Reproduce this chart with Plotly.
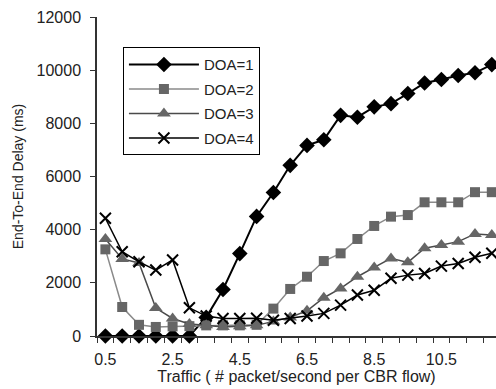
import plotly.graph_objects as go

traffic = [0.5, 1.0, 1.5, 2.0, 2.5, 3.0, 3.5, 4.0, 4.5, 5.0, 5.5, 6.0,
           6.5, 7.0, 7.5, 8.0, 8.5, 9.0, 9.5, 10.0, 10.5, 11.0, 11.5, 12.0]

doa1 = [0, 0, 0, 0, 0, 0, 700, 1750, 3100, 4500, 5400, 6420,
        7170, 7380, 8300, 8230, 8620, 8740, 9120, 9520, 9650, 9800, 9900, 10210]
doa2 = [3260, 1090, 420, 340, 360, 370, 400, 400, 400, 420, 1030, 1770,
        2230, 2820, 3110, 3650, 4140, 4490, 4550, 5030, 5030, 5030, 5410, 5410]
doa3 = [3650, 2900, 2750, 1050, 660, 450, 400, 340, 370, 400, 550, 700,
        950, 1440, 1790, 2230, 2580, 2920, 2770, 3300, 3420, 3550, 3840, 3800]
doa4 = [4430, 3170, 2790, 2480, 2860, 1060, 750, 660, 660, 670, 590, 660,
        750, 850, 1160, 1540, 1720, 2170, 2290, 2350, 2630, 2730, 2960, 3110]

x_tick_labels = ["0.5", "2.5", "4.5", "6.5", "8.5", "10.5"]
x_tick_vals = [0.5, 2.5, 4.5, 6.5, 8.5, 10.5]
y_tick_vals = [0, 2000, 4000, 6000, 8000, 10000, 12000]
y_tick_labels = ["0", "2000", "4000", "6000", "8000", "10000", "12000"]

FONT = "Liberation Sans, Arial, sans-serif"
TXT = "#222222"

fig = go.Figure()

fig.add_trace(go.Scatter(
    x=traffic, y=doa1, name="DOA=1", mode="lines+markers", legendgroup="a",
    line=dict(color="#000000", width=2),
    marker=dict(symbol="diamond", size=12, color="#000000"),
    cliponaxis=False))
fig.add_trace(go.Scatter(
    x=traffic, y=doa2, name="DOA=2", mode="lines+markers", legendgroup="b",
    line=dict(color="#8a8a8a", width=1.5),
    marker=dict(symbol="square", size=10, color="#666666"),
    cliponaxis=False))
fig.add_trace(go.Scatter(
    x=traffic, y=doa3, name="DOA=3", mode="lines+markers", legendgroup="c",
    line=dict(color="#4a4a4a", width=1.5),
    marker=dict(symbol="triangle-up", size=12, color="#666666"),
    cliponaxis=False))
fig.add_trace(go.Scatter(
    x=traffic, y=doa4, name="DOA=4", mode="lines+markers", legendgroup="d",
    line=dict(color="#000000", width=1.5),
    marker=dict(symbol="x-thin", size=11, color="#000000",
                line=dict(color="#000000", width=2)),
    cliponaxis=False))

fig.update_layout(
    width=496, height=389,
    margin=dict(l=97, r=0, t=17, b=53),
    paper_bgcolor="white", plot_bgcolor="white",
    font=dict(family=FONT, size=15, color=TXT),
    showlegend=True,
    legend=dict(
        x=0.065, y=0.905, xanchor="left", yanchor="top",
        bordercolor="#000000", borderwidth=1, bgcolor="white",
        font=dict(family=FONT, size=15, color=TXT),
        tracegroupgap=2, itemwidth=70,
    ),
    xaxis=dict(
        range=[0.25, 12.125],
        tickmode="array", tickvals=x_tick_vals, ticktext=x_tick_labels,
        ticks="", ticklabelstandoff=8,
        tickfont=dict(family=FONT, size=16, color=TXT),
        minor=dict(tickmode="linear", tick0=0.25, dtick=0.5, ticks="outside",
                   ticklen=5, tickcolor="#333333", tickwidth=1),
        showline=True, linecolor="#333333", linewidth=1.5,
        showgrid=False, zeroline=False,
        title=dict(text="Traffic ( # packet/second per CBR flow)",
                   font=dict(family=FONT, size=16, color=TXT), standoff=2),
    ),
    yaxis=dict(
        range=[0, 12000],
        tickmode="array", tickvals=y_tick_vals, ticktext=y_tick_labels,
        ticks="outside", ticklen=5, tickcolor="#333333", tickwidth=1,
        ticklabelstandoff=6,
        tickfont=dict(family=FONT, size=16, color=TXT),
        showline=True, linecolor="#333333", linewidth=1.5,
        showgrid=False, zeroline=False,
        title=dict(text="End-To-End Delay (ms)",
                   font=dict(family=FONT, size=14, color=TXT), standoff=10),
    ),
)

fig.write_html("out.html")
